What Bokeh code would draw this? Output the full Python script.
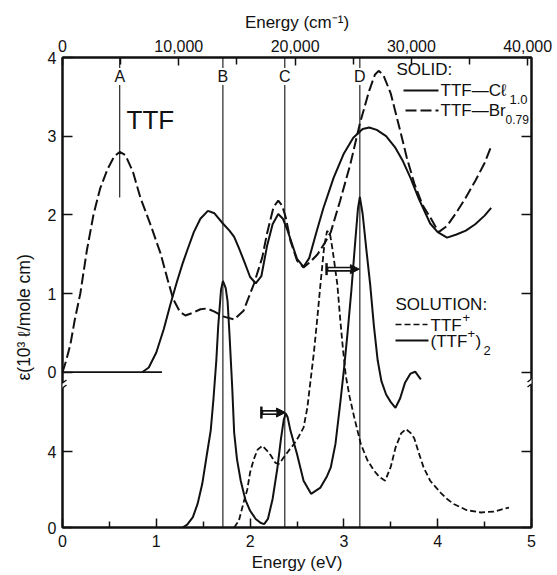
import math
from bokeh.plotting import figure
from bokeh.models import (Range1d, LinearAxis, FixedTicker, Label, Arrow, NormalHead,
                          TeeHead, NumeralTickFormatter, CustomJSTickFormatter, Title)
from bokeh.embed import file_html
from bokeh.resources import INLINE

# ---------------- data (energy in eV, epsilon in 10^3 l/mole cm) ----------------
# SOLID: TTF-Cl1.0 (upper panel, solid line)
cl_energy = [0.85, 0.92, 1.00, 1.08, 1.15, 1.22, 1.28, 1.33, 1.40, 1.47, 1.55, 1.62, 1.71,
             1.78, 1.83, 1.88, 1.94, 2.00, 2.06, 2.12, 2.18, 2.24, 2.30, 2.35, 2.40, 2.45,
             2.50, 2.57, 2.63, 2.70, 2.78, 2.89, 3.00, 3.10, 3.20, 3.27, 3.35, 3.45, 3.55,
             3.63, 3.71, 3.80, 3.92, 4.00, 4.10, 4.20, 4.30, 4.40, 4.50, 4.57]
cl_eps = [0.00, 0.06, 0.25, 0.55, 0.86, 1.15, 1.38, 1.55, 1.78, 1.95, 2.05, 2.02, 1.89,
          1.80, 1.72, 1.58, 1.40, 1.21, 1.13, 1.22, 1.60, 1.88, 2.01, 1.95, 1.80, 1.62,
          1.44, 1.34, 1.45, 1.75, 2.08, 2.47, 2.78, 2.98, 3.09, 3.11, 3.08, 3.00, 2.85,
          2.68, 2.47, 2.20, 1.89, 1.78, 1.71, 1.75, 1.80, 1.88, 1.99, 2.09]

# SOLID: TTF-Br0.79 (upper panel, long dashes)
br_energy = [0.00, 0.04, 0.085, 0.13, 0.19, 0.26, 0.33, 0.40, 0.48, 0.55, 0.61, 0.67, 0.75,
             0.83, 0.94, 1.045, 1.12, 1.18, 1.25, 1.31, 1.40, 1.47, 1.54, 1.62, 1.71, 1.83,
             1.93, 2.04, 2.13, 2.18, 2.25, 2.30, 2.34, 2.38, 2.43, 2.50, 2.57, 2.64, 2.72,
             2.80, 2.86, 2.96, 3.07, 3.17, 3.27, 3.33, 3.37, 3.42, 3.50, 3.60, 3.67, 3.75,
             3.84, 3.92, 4.01, 4.10, 4.20, 4.30, 4.40, 4.50, 4.57]
br_eps = [0.00, 0.15, 0.36, 0.66, 1.00, 1.55, 2.00, 2.33, 2.58, 2.74, 2.80, 2.76, 2.55,
          2.22, 1.87, 1.51, 1.18, 0.93, 0.77, 0.72, 0.76, 0.80, 0.81, 0.77, 0.71, 0.67,
          0.78, 1.12, 1.46, 1.76, 2.10, 2.18, 2.12, 1.97, 1.67, 1.42, 1.33, 1.40, 1.50,
          1.65, 1.78, 2.18, 2.65, 3.16, 3.58, 3.78, 3.83, 3.78, 3.54, 3.07, 2.73, 2.40,
          2.12, 1.97, 1.78, 1.86, 2.03, 2.22, 2.43, 2.66, 2.87]

# SOLUTION: TTF+ (lower panel scale, short dashes)
mono_energy = [1.83, 1.88, 1.93, 1.97, 2.00, 2.04, 2.08, 2.13, 2.18, 2.22, 2.27, 2.31, 2.36,
               2.42, 2.47, 2.52, 2.57, 2.61, 2.64, 2.68, 2.72, 2.75, 2.79, 2.82, 2.85, 2.88,
               2.93, 2.96, 2.99, 3.02, 3.06, 3.11, 3.18, 3.25, 3.32, 3.38, 3.44, 3.50, 3.55,
               3.61, 3.66, 3.71, 3.75, 3.80, 3.85, 3.92, 4.03, 4.10, 4.17, 4.31, 4.46, 4.60,
               4.76]
mono_eps = [0.00, 0.35, 1.30, 2.00, 2.90, 3.60, 4.10, 4.30, 4.05, 3.80, 3.40, 3.35, 3.70,
            4.10, 4.40, 4.80, 5.26, 6.30, 7.55, 9.20, 11.2, 12.8, 14.8, 15.6, 15.5, 14.6,
            12.8, 11.0, 9.4, 8.0, 6.9, 5.8, 4.40, 3.55, 3.00, 2.65, 2.46, 3.20, 4.20,
            4.95, 5.18, 4.98, 4.70, 3.90, 3.16, 2.46, 1.84, 1.50, 1.24, 0.91, 0.79, 0.84,
            1.05]

# SOLUTION: (TTF+)2 (lower panel scale, solid)
dimer_energy = [1.28, 1.33, 1.39, 1.44, 1.49, 1.54, 1.58, 1.61, 1.64, 1.66, 1.69, 1.71, 1.74,
                1.76, 1.78, 1.81, 1.83, 1.86, 1.90, 1.95, 2.00, 2.06, 2.11, 2.15, 2.19, 2.24,
                2.29, 2.33, 2.36, 2.38, 2.40, 2.43, 2.50, 2.57, 2.65, 2.75, 2.82, 2.86, 2.91,
                2.96, 3.00, 3.04, 3.08, 3.12, 3.15, 3.17, 3.20, 3.24, 3.28, 3.32, 3.36, 3.40,
                3.45, 3.50, 3.55, 3.60, 3.65, 3.71, 3.76, 3.82]
dimer_eps = [0.00, 0.15, 0.55, 1.24, 2.30, 3.87, 5.10, 6.80, 8.80, 10.6, 12.5, 12.98, 12.6,
             11.9, 10.2, 7.3, 5.0, 3.6, 2.46, 1.45, 0.88, 0.45, 0.25, 0.18, 0.45, 1.50,
             3.10, 4.70, 5.70, 6.00, 5.80, 5.10, 3.87, 2.46, 1.77, 2.10, 2.70, 3.16, 4.40,
             6.50, 8.30, 10.3, 12.5, 15.0, 16.8, 17.4, 16.5, 14.6, 12.8, 10.6, 8.8, 7.7,
             7.0, 6.6, 6.30, 6.80, 7.60, 8.10, 8.20, 7.80]

# band markers
band_labels = ["A", "B", "C", "D"]
band_energy = [0.61, 1.71, 2.37, 3.17]
band_A_lower_end = 2.22          # A line stops at this upper-panel epsilon

# shift arrows (TTF+ band -> dimer band)
shift_from = [2.12, 2.815]
shift_to = [2.377, 3.165]
shift_level_lower = 6.05         # first arrow, lower-panel units
shift_level_upper = 1.31         # second arrow, upper-panel units

# axes
upper_ticks = [0, 1, 2, 3, 4]
lower_ticks = [0, 4]
ev_ticks = [0, 1, 2, 3, 4, 5]
ev_minor = [0.5, 1.5, 2.5, 3.5, 4.5]
cm_ticks = [0, 10000, 20000, 30000, 40000]
cm_minor = [5000, 15000, 25000, 35000]
EV_TO_CM = 8065.54

# ---------------- geometry / style ----------------
FONT = "Liberation Sans"
INK = "#111111"
W, H = 557, 575
FRAME_L, FRAME_R, FRAME_T, FRAME_B = 62, 531, 57, 527
X_MAX = 5.0
PX_PER_EV = (FRAME_R - FRAME_L) / X_MAX
Y_TOP = FRAME_B - FRAME_T
UPPER_ZERO = 155.3
UPPER_SCALE = (Y_TOP - UPPER_ZERO) / 4.0
LOWER_SCALE = 19.0


def upper(vals):
    return [UPPER_ZERO + v * UPPER_SCALE for v in vals]


def lower(vals):
    return [v * LOWER_SCALE for v in vals]


def sx(px):
    return (px - FRAME_L) / PX_PER_EV


def sy(py):
    return FRAME_B - py


p = figure(width=W, height=H, x_range=Range1d(0, X_MAX), y_range=Range1d(0, Y_TOP),
           output_backend="svg", toolbar_location=None,
           min_border_left=FRAME_L, min_border_right=W - FRAME_R,
           min_border_top=FRAME_T, min_border_bottom=H - FRAME_B)
p.xgrid.visible = False
p.ygrid.visible = False
p.outline_line_color = INK
p.outline_line_width = 2
p.background_fill_color = "white"
p.border_fill_color = "white"

# left axis with broken scale
ytick_pos = lower(lower_ticks) + upper(upper_ticks)
ytick_lab = [str(t) for t in lower_ticks] + [str(t) for t in upper_ticks]
left = p.yaxis[0]
left.ticker = FixedTicker(ticks=ytick_pos)
left.formatter = CustomJSTickFormatter(args=dict(pos=ytick_pos, lab=ytick_lab), code="""
for (let i = 0; i < pos.length; i++) { if (Math.abs(pos[i] - tick) < 0.01) return lab[i]; }
return "";
""")

right = LinearAxis(ticker=FixedTicker(ticks=ytick_pos),
                   formatter=CustomJSTickFormatter(code="return '';"))
p.add_layout(right, "right")

bottom = p.xaxis[0]
bottom.ticker = FixedTicker(ticks=ev_ticks, minor_ticks=ev_minor)

p.extra_x_ranges = {"cm": Range1d(0, X_MAX * EV_TO_CM)}
top = LinearAxis(x_range_name="cm", ticker=FixedTicker(ticks=cm_ticks, minor_ticks=cm_minor),
                 formatter=NumeralTickFormatter(format="0,0"))
p.add_layout(top, "above")

for ax in (left, right, bottom, top):
    ax.axis_line_color = INK
    ax.axis_line_width = 2
    ax.major_tick_line_color = INK
    ax.major_tick_line_width = 1.5
    ax.minor_tick_line_color = INK
    ax.minor_tick_line_width = 1.5
    ax.major_tick_out = 0
    ax.minor_tick_out = 0
    ax.major_label_text_font = FONT
    ax.major_label_text_font_size = "16px"
    ax.major_label_text_color = INK
    ax.major_label_standoff = 6
for ax in (left, right):
    ax.major_tick_in = 10
    ax.minor_tick_in = 0
bottom.major_tick_in = 9
bottom.minor_tick_in = 6
top.major_tick_in = 8
top.minor_tick_in = 7
bottom.major_label_standoff = 7

bottom.axis_label = "Energy (eV)"
bottom.axis_label_standoff = 3
top.axis_label = "Energy (cm\u207b\u00b9)"
top.axis_label_standoff = 5
for ax in (bottom, top):
    ax.axis_label_text_font = FONT
    ax.axis_label_text_font_size = "17px"
    ax.axis_label_text_font_style = "normal"
    ax.axis_label_text_color = INK

# y title as a side title, placed a little below the frame centre as in the original
ytitle = Title(text="\u03b5(10\u00b3 \u2113/mole cm)", align="left", offset=147,
               text_font=FONT, text_font_size="17.5px", text_font_style="normal",
               text_color=INK, standoff=21)
p.add_layout(ytitle, "left")

# band lines A-D
band_top = [Y_TOP] * len(band_energy)
band_bottom = [upper([band_A_lower_end])[0]] + [0.0] * (len(band_energy) - 1)
p.segment(x0=band_energy, y0=band_bottom, x1=band_energy, y1=band_top,
          line_color=INK, line_width=1.1)

# upper-panel zero line
p.segment(x0=[0], y0=upper([0]), x1=[1.06], y1=upper([0]), line_color=INK, line_width=1.8)

# curves
p.line(cl_energy, upper(cl_eps), line_color=INK, line_width=2)
p.line(br_energy, upper(br_eps), line_color=INK, line_width=2, line_dash="11 4")
p.line(mono_energy, lower(mono_eps), line_color=INK, line_width=1.8, line_dash="6 3")
p.line(dimer_energy, lower(dimer_eps), line_color=INK, line_width=2)

# band letters
for lab, e in zip(band_labels, band_energy):
    p.add_layout(Label(x=e, y=sy(76), text=lab, text_align="center", text_baseline="middle",
                       text_font=FONT, text_font_size="16px", text_color=INK,
                       background_fill_color="white"))

# shift arrows
levels = lower([shift_level_lower]) + upper([shift_level_upper])
head_len = 9 / PX_PER_EV
for a0, a1, yv in zip(shift_from, shift_to, levels):
    p.add_layout(Arrow(x_start=a0, y_start=yv, x_end=a1, y_end=yv, line_color=INK,
                       line_width=5, start=TeeHead(size=12, line_width=2.5, line_color=INK),
                       end=NormalHead(size=9, fill_color=INK, line_color=INK)))
    p.add_layout(Arrow(x_start=a0 + 0.02, y_start=yv, x_end=a1 - head_len, y_end=yv,
                       line_color="white", line_width=1.7, end=None))

# axis breaks
dx = 4 / PX_PER_EV
for xb, pyb in ((0.0, 385), (X_MAX, 381)):
    p.add_layout(Arrow(x_start=xb - dx, y_start=sy(pyb + 3), x_end=xb + dx, y_end=sy(pyb - 3),
                       line_color="white", line_width=4, end=None))
    for off in (-2.5, 2.5):
        p.add_layout(Arrow(x_start=xb - dx, y_start=sy(pyb + 3 + off), x_end=xb + dx,
                           y_end=sy(pyb - 3 + off), line_color=INK, line_width=1.3, end=None))


def txt(x, y, s, size="17px", align="left", baseline="middle", angle=0.0):
    p.add_layout(Label(x=x, y=y, text=s, text_align=align, text_baseline=baseline,
                       text_font=FONT, text_font_size=size, text_color=INK, angle=angle))


# compound label
txt(sx(126), sy(119), "TTF", size="26px", baseline="alphabetic")

# legend: solid
txt(sx(396), sy(69), "SOLID:")
p.line([sx(403), sx(438)], [sy(90), sy(90)], line_color=INK, line_width=1.8)
txt(sx(440), sy(90), "TTF\u2014C\u2113")
txt(sx(509), sy(99), "1.0", size="13px")
p.line([sx(405), sx(438)], [sy(110), sy(110)], line_color=INK, line_width=1.8, line_dash="11 4")
txt(sx(440), sy(110), "TTF\u2014Br")
txt(sx(505), sy(119), "0.79", size="12px")

# legend: solution
txt(sx(395), sy(304), "SOLUTION:")
p.line([sx(395), sx(427)], [sy(324), sy(324)], line_color=INK, line_width=1.6, line_dash="6 3")
txt(sx(430), sy(325), "TTF")
txt(sx(462), sy(317), "+", size="13px")
p.line([sx(395), sx(428)], [sy(340), sy(340)], line_color=INK, line_width=1.8)
txt(sx(430), sy(341), "(TTF")
txt(sx(467), sy(333), "+", size="13px")
txt(sx(475), sy(341), ")")
txt(sx(483), sy(350), "2", size="13px")

open("out.html", "w").write(file_html(p, INLINE))
